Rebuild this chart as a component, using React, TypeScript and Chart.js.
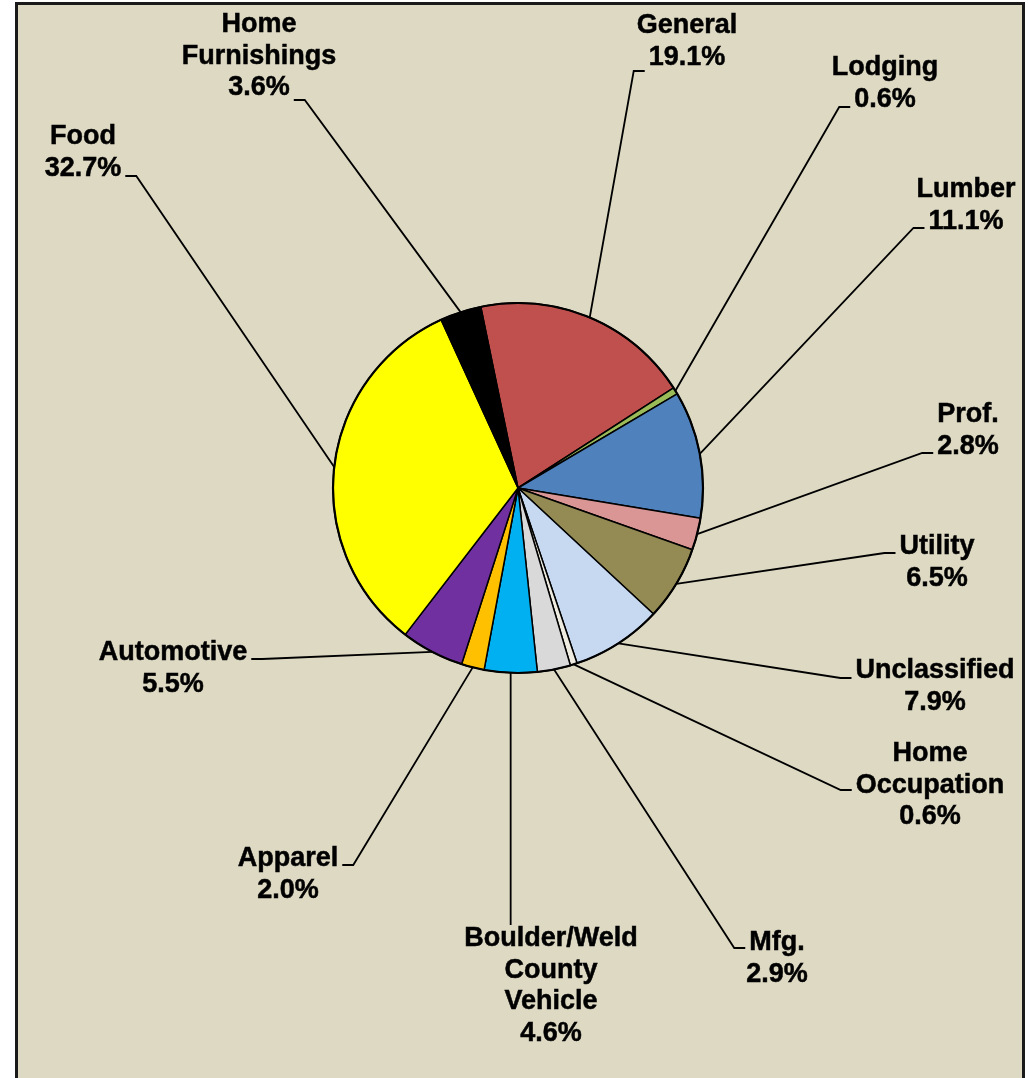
import React, { useEffect, useRef } from "react";
import { Chart, registerables } from "chart.js";

Chart.register(...registerables);

// ---- data ----
const categories = [
  "General",
  "Lodging",
  "Lumber",
  "Prof.",
  "Utility",
  "Unclassified",
  "Home Occupation",
  "Mfg.",
  "Boulder/Weld County Vehicle",
  "Apparel",
  "Automotive",
  "Food",
  "Home Furnishings",
];
const labelLines = [
  ["General"],
  ["Lodging"],
  ["Lumber"],
  ["Prof."],
  ["Utility"],
  ["Unclassified"],
  ["Home", "Occupation"],
  ["Mfg."],
  ["Boulder/Weld", "County", "Vehicle"],
  ["Apparel"],
  ["Automotive"],
  ["Food"],
  ["Home", "Furnishings"],
];
const shares = [19.1, 0.6, 11.1, 2.8, 6.5, 7.9, 0.6, 2.9, 4.6, 2.0, 5.5, 32.7, 3.6];
const sliceColors = [
  "#C0504D",
  "#9BBB59",
  "#4F81BD",
  "#D99694",
  "#948A54",
  "#C6D9F1",
  "#EEECE1",
  "#D9D9D9",
  "#00B0F0",
  "#FFC000",
  "#7030A0",
  "#FFFF00",
  "#000000",
];

// ---- label layout (page pixels): text centre x, first baseline, where the leader attaches ----
const labelCx = [687, 885, 966, 968, 937, 935, 930, 777, 551, 288, 173, 83, 259];
const labelBase = [33, 75, 197, 422, 554, 678, 761, 950, 946, 866, 660, 144, 32];
const leaderSide = ["left", "left", "left", "left", "left", "left", "left", "left", "top", "right", "right", "right", "right"];
const leaderY = [71, 107, 228, 453, 553, 678, 790, 948, 925, 865, 659, 176, 100];

const FONT = "bold 27px 'Liberation Sans', Arial, sans-serif";
const LINE_H = 31.5;

const labelPlugin = {
  id: "excelLabels",
  afterDatasetsDraw(chart: any) {
    const ctx = chart.ctx as CanvasRenderingContext2D;
    const meta = chart.getDatasetMeta(0);
    ctx.save();
    // outer rim of the pie, slightly heavier than the slice separators
    const first = meta.data[0];
    if (first) {
      ctx.beginPath();
      ctx.arc(first.x, first.y, first.outerRadius, 0, Math.PI * 2);
      ctx.lineWidth = 2.2;
      ctx.strokeStyle = "#000";
      ctx.stroke();
    }
    ctx.font = FONT;
    ctx.fillStyle = "#000";
    ctx.strokeStyle = "#000";
    ctx.textAlign = "center";
    ctx.textBaseline = "alphabetic";
    meta.data.forEach((arc: any, i: number) => {
      const lines = [...labelLines[i], shares[i].toFixed(1) + "%"];
      const cx = labelCx[i];
      const base = labelBase[i];
      // leader line
      const mid = (arc.startAngle + arc.endAngle) / 2;
      const px = arc.x + Math.cos(mid) * arc.outerRadius;
      const py = arc.y + Math.sin(mid) * arc.outerRadius;
      const ay = leaderY[i];
      ctx.lineWidth = 1.8;
      ctx.beginPath();
      ctx.moveTo(px, py);
      if (leaderSide[i] === "top") {
        ctx.lineTo(px, ay);
      } else {
        let best = 0;
        let bestD = Infinity;
        lines.forEach((_, k) => {
          const d = Math.abs(base + k * LINE_H - ay);
          if (d < bestD) {
            bestD = d;
            best = k;
          }
        });
        const w = ctx.measureText(lines[best]).width;
        if (leaderSide[i] === "left") {
          const edge = cx - w / 2 - 4;
          ctx.lineTo(edge - 11, ay);
          ctx.lineTo(edge, ay);
        } else {
          const edge = cx + w / 2 + 4;
          ctx.lineTo(edge + 11, ay);
          ctx.lineTo(edge, ay);
        }
      }
      ctx.stroke();
      // text
      ctx.lineWidth = 0.5;
      lines.forEach((t, k) => {
        ctx.fillText(t, cx, base + k * LINE_H);
        ctx.strokeText(t, cx, base + k * LINE_H);
      });
    });
    ctx.restore();
  },
};

export default function App() {
  const ref = useRef<HTMLCanvasElement | null>(null);
  useEffect(() => {
    if (!ref.current) return;
    const chart = new Chart(ref.current, {
      type: "pie",
      data: {
        labels: categories,
        datasets: [
          {
            data: shares,
            backgroundColor: sliceColors,
            borderColor: "#000",
            borderWidth: 1.5,
          },
        ],
      },
      options: {
        animation: false,
        responsive: false,
        devicePixelRatio: 1,
        rotation: -11.6,
        radius: 185,
        layout: { padding: { left: 333, right: 325, top: 303, bottom: 405 } },
        plugins: {
          legend: { display: false },
          tooltip: { enabled: false },
          title: { display: false },
        },
      },
      plugins: [labelPlugin],
    });
    return () => chart.destroy();
  }, []);
  return (
    <>
      <div
        style={{
          position: "absolute",
          left: 15,
          top: 2,
          width: 1010,
          height: 1076,
          boxSizing: "border-box",
          background: "#DDD9C3",
          border: "3px solid #1a1a1a",
          borderBottom: "none",
        }}
      />
      <canvas
        ref={ref}
        width={1028}
        height={1078}
        style={{ position: "absolute", left: 0, top: 0, width: 1028, height: 1078 }}
      />
    </>
  );
}
